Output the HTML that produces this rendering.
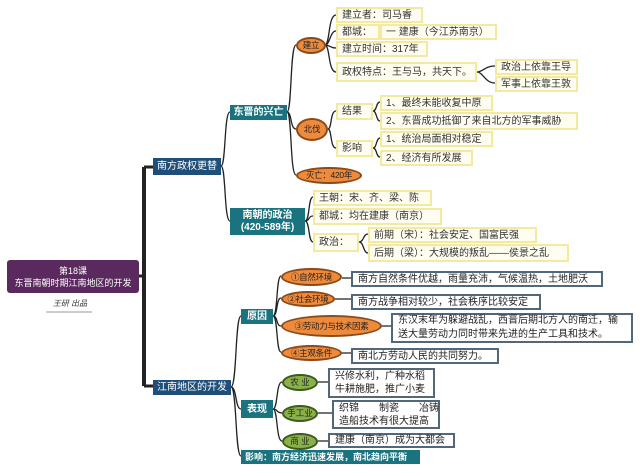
<!DOCTYPE html>
<html><head><meta charset="utf-8"><style>
body{margin:0;width:640px;height:473px;background:#fff;position:relative;overflow:hidden;font-family:"Liberation Sans","Noto Sans CJK SC",sans-serif;}
.b{position:absolute;box-sizing:border-box;display:flex;align-items:center;justify-content:center;font-size:10px;line-height:13px;white-space:nowrap;text-align:center}
.y{background:#fffdf0;border:2px solid #f3e9a0;color:#333;justify-content:flex-start;padding-left:4px;text-align:left}
.g{background:#fff;border:2px solid #52687a;color:#222;justify-content:flex-start;padding-left:5px;text-align:left}
.t{background:#1b7380;color:#fff;font-weight:bold}
.d{background:#1f4e79;color:#fff}
.o{background:#ee8a3c;border:2px solid #8a4a1a;border-radius:50%;color:#222;font-size:8.5px;letter-spacing:-0.3px}
.gr{background:#8ab04a;border:2px solid #3c5a1c;border-radius:50%;color:#222;font-size:8.5px}
svg{position:absolute;left:0;top:0}
</style></head><body>
<svg width="640" height="473" fill="none" stroke="#222" stroke-width="1.3">
<path d="M144 167 V386" stroke-width="4"/>
<path d="M144 167 H153 M144 386 H153 M139 276 H144" stroke-width="3"/>
<path d="M221 166 C226 166,224 112,230 112 M221 166 C226 166,224 221,230 221"/>
<path d="M287 112 C292 112,290 45,296 45 M287 112 C292 112,290 129,296 129 M287 112 C292 112,290 175,296 175"/>
<path d="M325 45 C330 45,328 15,336 15 M325 45 C330 45,330 31,336 31 M325 45 C330 45,330 48,336 48 M325 45 C330 45,328 72,336 72"/>
<path d="M477 72 C483 72,485 66,495 66 M477 72 C483 72,485 83,495 83"/>
<path d="M328 129 C332 129,330 111,336 111 M328 129 C332 129,330 148,336 148"/>
<path d="M373 111 C377 111,376 102,380 102 M373 111 C377 111,376 121,380 121 M373 148 C377 148,376 138,380 138 M373 148 C377 148,376 157,380 157"/>
<path d="M305 221 C310 221,308 197,313 197 M305 221 C310 221,308 216,313 216 M305 221 C310 221,308 242,313 242"/>
<path d="M359 242 C364 242,363 234,368 234 M359 242 C364 242,363 253,368 253"/>
<path d="M231 387 C237 387,235 316,241 316 M231 387 C237 387,235 409,241 409 M231 387 C237 387,235 456,241 456"/>
<path d="M273 316 C278 316,276 276,281 276 M273 316 C278 316,276 298,281 298 M273 316 C278 316,276 326,281 326 M273 316 C278 316,276 352,281 352"/>
<path d="M273 409 C278 409,276 382,282 382 M273 409 C278 409,276 413,282 413 M273 409 C278 409,276 441,282 441"/>
<path d="M342 278 H351 M335 299 H351 M382 326 H391 M342 353 H351 M318 382 H328 M318 413 H332 M318 441 H328"/>
<path d="M46 312 H92" stroke="#999" stroke-width="1"/>
</svg>
<div class="b" style="left:7px;top:260px;width:132px;height:33px;background:#5a2a5e;color:#fff;border-radius:3px;font-size:9px;line-height:12px">第18课<br>东晋南朝时期江南地区的开发</div>
<div class="b" style="left:50px;top:297px;width:40px;height:12px;font-size:8px;font-style:italic;color:#333">王研 出品</div>
<div class="b d" style="left:153px;top:158px;width:68px;height:17px">南方政权更替</div>
<div class="b d" style="left:153px;top:380px;width:78px;height:15px">江南地区的开发</div>
<div class="b t" style="left:230px;top:105px;width:57px;height:15px">东晋的兴亡</div>
<div class="b t" style="left:230px;top:208px;width:75px;height:27px;line-height:12px">南朝的政治<br>(420-589年)</div>
<div class="b o" style="left:296px;top:37px;width:30px;height:17px">建立</div>
<div class="b o" style="left:296px;top:118px;width:32px;height:23px">北伐</div>
<div class="b o" style="left:296px;top:167px;width:66px;height:17px">灭亡：420年</div>
<div class="b y" style="left:336px;top:7px;width:87px;height:16px">建立者：司马睿</div>
<div class="b y" style="left:336px;top:24px;width:44px;height:16px">都城：</div>
<div class="b y" style="left:380px;top:24px;width:117px;height:16px">一 建康（今江苏南京）</div>
<div class="b y" style="left:336px;top:41px;width:92px;height:16px">建立时间：317年</div>
<div class="b y" style="left:336px;top:62px;width:141px;height:20px">政权特点：王与马，共天下。</div>
<div class="b y" style="left:495px;top:59px;width:83px;height:16px">政治上依靠王导</div>
<div class="b y" style="left:495px;top:76px;width:83px;height:16px">军事上依靠王敦</div>
<div class="b y" style="left:336px;top:103px;width:37px;height:17px">结果</div>
<div class="b y" style="left:380px;top:95px;width:113px;height:16px">1、最终未能收复中原</div>
<div class="b y" style="left:380px;top:112px;width:198px;height:18px">2、东晋成功抵御了来自北方的军事威胁</div>
<div class="b y" style="left:336px;top:140px;width:37px;height:17px">影响</div>
<div class="b y" style="left:380px;top:131px;width:113px;height:16px">1、统治局面相对稳定</div>
<div class="b y" style="left:380px;top:150px;width:93px;height:16px">2、经济有所发展</div>
<div class="b y" style="left:313px;top:190px;width:119px;height:16px">王朝：宋、齐、梁、陈</div>
<div class="b y" style="left:313px;top:208px;width:129px;height:17px">都城：均在建康（南京）</div>
<div class="b y" style="left:313px;top:233px;width:46px;height:19px">政治：</div>
<div class="b y" style="left:368px;top:227px;width:169px;height:16px">前期（宋）：社会安定、国富民强</div>
<div class="b y" style="left:368px;top:244px;width:201px;height:18px">后期（梁）：大规模的叛乱——侯景之乱</div>
<div class="b t" style="left:241px;top:309px;width:32px;height:15px">原因</div>
<div class="b t" style="left:241px;top:400px;width:32px;height:18px">表现</div>
<div class="b t" style="left:241px;top:450px;width:179px;height:14px;justify-content:flex-start;padding-left:4px;font-size:9px">影响：南方经济迅速发展，南北趋向平衡</div>
<div class="b o" style="left:281px;top:268px;width:61px;height:18px">①自然环境</div>
<div class="b o" style="left:281px;top:291px;width:54px;height:16px">②社会环境</div>
<div class="b o" style="left:281px;top:315px;width:101px;height:22px">③劳动力与技术因素</div>
<div class="b o" style="left:281px;top:345px;width:61px;height:16px">④主观条件</div>
<div class="b g" style="left:351px;top:271px;width:252px;height:16px">南方自然条件优越，雨量充沛，气候温热，土地肥沃</div>
<div class="b g" style="left:351px;top:294px;width:190px;height:16px">南方战争相对较少，社会秩序比较安定</div>
<div class="b g" style="left:391px;top:313px;width:242px;height:30px;line-height:14px">东汉末年为躲避战乱，西晋后期北方人的南迁，输<br>送大量劳动力同时带来先进的生产工具和技术。</div>
<div class="b g" style="left:351px;top:348px;width:148px;height:16px">南北方劳动人民的共同努力。</div>
<div class="b gr" style="left:282px;top:374px;width:36px;height:17px">农 业</div>
<div class="b gr" style="left:282px;top:405px;width:36px;height:17px">手工业</div>
<div class="b gr" style="left:282px;top:433px;width:36px;height:17px">商 业</div>
<div class="b g" style="left:328px;top:368px;width:107px;height:30px;line-height:13px">兴修水利，广种水稻<br>牛耕施肥，推广小麦</div>
<div class="b g" style="left:332px;top:400px;width:108px;height:29px;line-height:13px">织锦　　制瓷　　冶铸<br>造船技术有很大提高</div>
<div class="b g" style="left:328px;top:433px;width:127px;height:15px">建康（南京）成为大都会</div>
</body></html>
